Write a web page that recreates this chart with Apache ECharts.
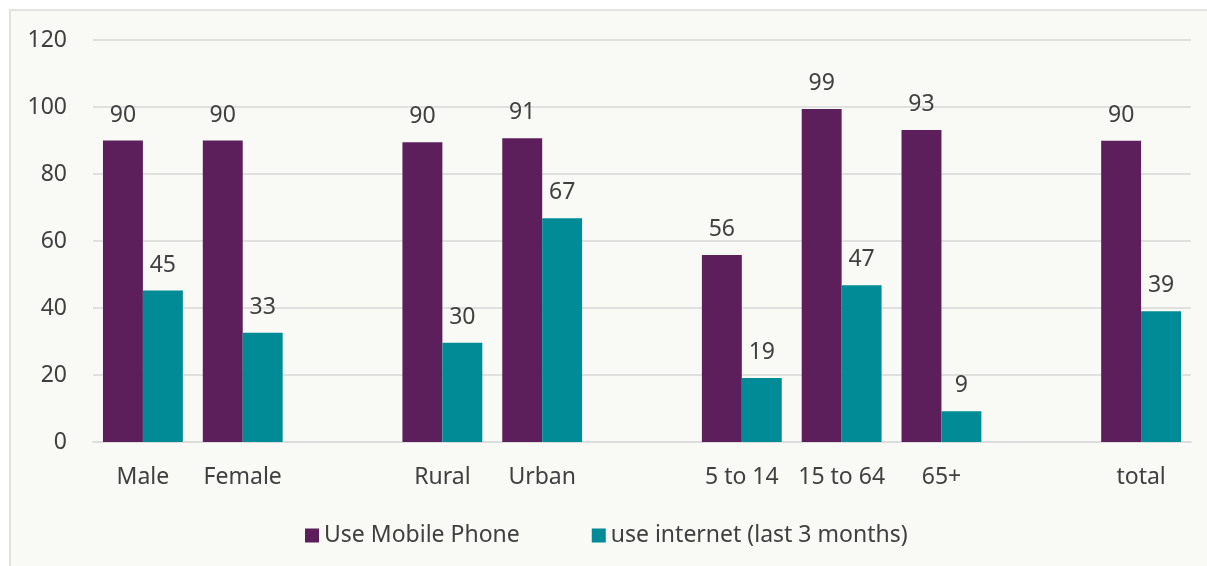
<!DOCTYPE html>
<html>
<head>
<meta charset="utf-8">
<script src="https://cdn.jsdelivr.net/npm/echarts@6/dist/echarts.min.js"></script>
<style>
  html, body { margin: 0; padding: 0; background: #fff; }
  #frame { position: absolute; left: 9px; top: 9px; width: 1210px; height: 570px;
           border: 2px solid #e2e2e0; background: #f9f9f5; box-sizing: border-box; }
  #chart { position: absolute; left: 0; top: 0; width: 1207px; height: 566px; }
</style>
</head>
<body>
<div id="frame"></div>
<div id="chart"></div>
<script>
// categories (blank slots keep the group gaps)
const categories = ['Male', 'Female', '', 'Rural', 'Urban', '', '5 to 14', '15 to 64', '65+', '', 'total'];
const mobilePhone = [90, 90, null, 89.5, 90.7, null, 55.8, 99.4, 93.1, null, 89.9];
const internetUse = [45.2, 32.6, null, 29.6, 66.8, null, 19.1, 46.8, 9.2, null, 39];
const yTicks = { min: 0, max: 120, interval: 20 };

const fontFamily = 'Noto Sans';
const textColor = '#404040';
const fontSize = 23;

const myChart = echarts.init(document.getElementById('chart'), null, { renderer: 'canvas' });

const labelOpt = {
  show: true,
  position: 'top',
  distance: 14,
  color: textColor,
  fontFamily: fontFamily,
  fontSize: fontSize,
  formatter: p => Math.round(p.value)
};

myChart.setOption({
  backgroundColor: 'transparent',
  animation: false,
  grid: { left: 93, right: 16, top: 40, bottom: 124 },
  legend: {
    bottom: 14,
    left: 300,
    itemWidth: 14,
    itemHeight: 14,
    itemGap: 72,
    icon: 'rect',
    textStyle: { color: textColor, fontFamily: fontFamily, fontSize: fontSize },
    data: ['Use Mobile Phone', 'use internet (last 3 months)']
  },
  xAxis: {
    type: 'category',
    data: categories,
    axisLine: { lineStyle: { color: '#ddd', width: 2 } },
    axisTick: { show: false },
    axisLabel: { color: textColor, fontFamily: fontFamily, fontSize: fontSize, margin: 24, interval: 0 }
  },
  yAxis: {
    type: 'value',
    min: yTicks.min,
    max: yTicks.max,
    interval: yTicks.interval,
    axisLine: { show: false },
    axisTick: { show: false },
    splitLine: { lineStyle: { color: '#e0e0de', width: 2 } },
    axisLabel: { color: textColor, fontFamily: fontFamily, fontSize: fontSize, margin: 26 }
  },
  series: [
    {
      name: 'Use Mobile Phone',
      type: 'bar',
      data: mobilePhone,
      barGap: '0%',
      barCategoryGap: '20%',
      itemStyle: { color: '#5c1f5c' },
      label: labelOpt
    },
    {
      name: 'use internet (last 3 months)',
      type: 'bar',
      data: internetUse,
      itemStyle: { color: '#008b96' },
      label: labelOpt
    }
  ]
});
</script>
</body>
</html>
